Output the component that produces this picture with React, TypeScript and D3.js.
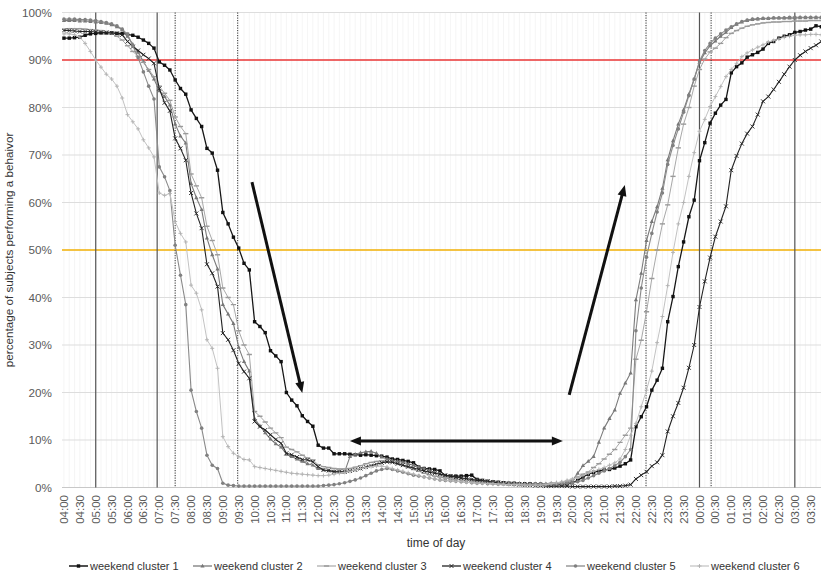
import React from "react";
import * as d3 from "d3";

const W = 821;
const H = 574;

// x tick labels, one every 30 minutes (04:00 start of the day -> 03:30 next day)
const tickLabels = [
  "04:00", "04:30", "05:00", "05:30", "06:00", "06:30", "07:00", "07:30",
  "08:00", "08:30", "09:00", "09:30", "10:00", "10:30", "11:00", "11:30",
  "12:00", "12:30", "13:00", "13:30", "14:00", "14:30", "15:00", "15:30",
  "16:00", "16:30", "17:00", "17:30", "18:00", "18:30", "19:00", "19:30",
  "20:00", "20:30", "21:00", "21:30", "22:00", "22:30", "23:00", "23:30",
  "00:00", "00:30", "01:00", "01:30", "02:00", "02:30", "03:00", "03:30",
];

const yTicks = [0, 10, 20, 30, 40, 50, 60, 70, 80, 90, 100];

const seriesNames = [
  "weekend cluster 1",
  "weekend cluster 2",
  "weekend cluster 3",
  "weekend cluster 4",
  "weekend cluster 5",
  "weekend cluster 6",
];

// percentage of subjects performing the behaviour, one value per 10 minutes from 04:00
const cluster1 = [
  94.6, 94.6, 94.7, 94.8, 95.2, 95.5, 95.6, 95.7, 95.7, 95.7, 95.6, 95.6,
  95.4, 95.2, 94.8, 94.2, 93.5, 92.5, 89.6, 88.9, 87.9, 85.8, 84.0, 82.8,
  79.5, 77.7, 76.0, 71.4, 70.4, 66.8, 57.9, 55.5, 52.7, 50.4, 47.2, 45.8,
  34.9, 33.9, 32.6, 28.8, 27.7, 26.5, 20.0, 18.4, 17.2, 15.1, 13.9, 12.9,
  8.9, 8.3, 8.3, 7.1, 7.1, 7.1, 7.0, 6.9, 6.8, 6.9, 6.8, 6.7,
  6.6, 6.4, 6.0, 5.9, 5.7, 5.5, 5.2, 4.3, 4.0, 3.9, 3.8, 3.5,
  2.5, 2.4, 2.4, 2.4, 2.5, 2.6, 1.7, 1.5, 1.3, 1.2, 1.1, 1.0,
  0.9, 0.9, 0.8, 0.8, 0.8, 0.7, 0.7, 0.6, 0.6, 0.6, 0.7, 0.8,
  1.0, 1.5, 2.2, 2.8, 3.2, 3.5, 3.7, 3.8, 4.1, 4.5, 5.0, 5.8,
  12.8, 14.9, 17.0, 20.5, 22.6, 25.1, 34.9, 40.2, 46.5, 51.7, 57.0, 60.5,
  68.8, 72.6, 76.7, 78.8, 80.5, 81.7, 87.3, 88.6, 89.4, 90.6, 91.1, 91.6,
  92.3, 93.5, 93.9, 94.6, 95.0, 95.3, 95.8, 96.0, 96.3, 96.5, 97.2, 97.0,
];

const cluster2 = [
  98.3, 98.3, 98.3, 98.2, 98.2, 98.1, 98.0, 97.9, 97.7, 97.4, 97.0, 96.4,
  95.0, 93.3, 91.6, 89.7, 87.8, 86.0, 83.5, 82.3, 80.5, 76.5, 74.0, 72.5,
  64.0, 61.0, 58.5, 52.5, 49.0, 46.0, 38.5, 36.5, 34.5, 29.5, 26.5, 24.5,
  14.5, 13.0, 11.5, 10.2, 9.2, 8.5, 7.0, 6.5, 6.0, 5.5, 5.0, 4.7,
  4.0, 3.7, 3.5, 3.4, 3.4, 3.3, 6.5, 7.0, 7.3, 7.5, 7.6, 7.2,
  6.4, 6.0, 5.7, 5.5, 5.3, 5.0, 4.7, 4.3, 4.0, 3.6, 3.2, 2.8,
  2.5, 2.3, 2.1, 2.0, 1.8, 1.7, 1.5, 1.4, 1.3, 1.2, 1.1, 1.0,
  1.0, 0.9, 0.9, 0.8, 0.8, 0.8, 0.8, 0.8, 0.9, 1.0, 1.1, 1.3,
  1.5, 3.0, 4.6, 5.5, 6.5, 9.5, 12.5, 14.5, 16.3, 19.8, 22.0, 24.1,
  39.5, 45.1, 52.0, 56.0, 59.1, 63.0, 69.0, 73.0, 76.5, 79.5, 82.8, 86.0,
  89.5, 91.5, 93.0, 94.0, 95.0, 95.8, 96.8, 97.5, 98.0, 98.3, 98.5, 98.6,
  98.7, 98.7, 98.8, 98.8, 98.8, 98.8, 98.8, 98.9, 98.9, 98.9, 98.9, 98.9,
];

const cluster3 = [
  96.5, 96.6, 96.6, 96.6, 96.5, 96.4, 96.3, 96.2, 96.0, 95.6, 95.0, 94.2,
  93.0, 91.8, 90.8, 89.5, 88.0, 86.5, 84.5, 83.0, 81.5, 78.0, 76.0, 74.5,
  66.0, 63.5, 61.0, 55.0, 52.0, 49.0, 42.0, 40.0, 38.5, 33.0, 30.0, 28.0,
  16.0, 15.0, 13.8, 12.5, 11.5, 10.5, 8.5, 8.0, 7.5, 6.8, 6.2, 5.8,
  4.8, 4.4, 4.2, 4.0, 3.9, 3.9, 4.0, 4.3, 4.6, 5.0, 5.3, 5.5,
  5.6, 5.5, 5.3, 5.0, 4.6, 4.2, 3.8, 3.4, 3.0, 2.7, 2.4, 2.2,
  2.0, 1.8, 1.7, 1.6, 1.5, 1.4, 1.3, 1.2, 1.1, 1.0, 1.0, 0.9,
  0.9, 0.8, 0.8, 0.8, 0.8, 0.8, 0.8, 0.8, 0.9, 0.9, 1.0, 1.3,
  1.7, 2.2, 2.8, 3.3, 4.2, 5.0, 6.0, 7.0, 8.0, 9.5, 11.0, 12.5,
  27.0, 31.0, 37.0, 44.0, 50.0, 55.5, 59.5, 65.5, 71.5, 76.5, 80.0, 84.5,
  88.0, 90.2, 91.7, 92.5, 93.5, 94.7, 95.6, 96.2, 96.7, 97.1, 97.4, 97.6,
  97.8, 97.9, 98.0, 98.0, 98.1, 98.1, 98.2, 98.2, 98.2, 98.3, 98.3, 98.3,
];

const cluster4 = [
  96.2, 96.2, 96.1, 96.0, 96.0, 96.0, 95.9, 95.8, 95.8, 95.7, 95.6, 95.3,
  93.9, 92.8, 92.0, 91.1, 90.3, 89.3, 84.0, 81.0, 79.3, 73.5, 71.4, 68.9,
  62.0, 57.7, 54.6, 47.0, 45.1, 42.3, 32.5, 31.1, 28.9, 26.1, 24.4, 23.0,
  13.9, 12.8, 12.1, 11.1, 10.1, 9.3, 7.2, 6.9, 6.4, 5.9, 5.8, 5.4,
  4.4, 3.7, 3.6, 3.3, 3.3, 3.3, 3.5, 3.7, 4.0, 4.3, 4.6, 4.9,
  5.2, 5.4, 5.3, 5.0, 4.7, 4.4, 4.1, 3.8, 3.5, 3.2, 3.0, 2.8,
  2.6, 2.4, 2.2, 2.0, 1.9, 1.7, 1.5, 1.4, 1.3, 1.1, 1.0, 0.9,
  0.8, 0.7, 0.6, 0.5, 0.5, 0.4, 0.4, 0.3, 0.3, 0.3, 0.3, 0.3,
  0.2, 0.2, 0.2, 0.2, 0.2, 0.2, 0.2, 0.2, 0.3, 0.3, 0.4, 0.6,
  1.8, 2.6, 3.3, 4.5, 5.3, 6.8, 11.8, 15.0, 17.8, 21.0, 25.2, 30.0,
  38.0, 43.4, 48.4, 52.8, 56.0, 59.2, 66.8, 69.8, 72.4, 74.5, 76.0, 78.5,
  81.3, 82.3, 83.8, 85.4, 87.0, 88.6, 90.0, 91.0, 91.8, 92.5, 93.1, 93.9,
];

const cluster5 = [
  98.6, 98.6, 98.6, 98.5, 98.5, 98.4, 98.3, 98.1, 97.9, 97.6, 97.2, 96.5,
  95.4, 93.0, 90.5, 87.5, 84.5, 81.8, 67.5, 65.4, 62.5, 51.0, 44.7, 38.5,
  20.5, 16.0, 12.5, 6.8, 4.7, 4.0, 0.9, 0.5, 0.4, 0.3, 0.3, 0.3,
  0.3, 0.3, 0.3, 0.3, 0.3, 0.3, 0.3, 0.3, 0.3, 0.3, 0.3, 0.3,
  0.3, 0.4, 0.5, 0.6, 0.8, 1.0, 1.3, 1.6, 2.0, 2.5, 3.0, 3.5,
  3.8, 4.0, 3.8, 3.5, 3.2, 2.9, 2.6, 2.4, 2.2, 2.0, 1.8, 1.6,
  1.5, 1.4, 1.3, 1.2, 1.1, 1.0, 0.9, 0.9, 0.8, 0.8, 0.7, 0.7,
  0.7, 0.6, 0.6, 0.6, 0.6, 0.6, 0.6, 0.6, 0.7, 0.7, 0.8, 0.9,
  1.0, 1.2, 1.5, 2.0, 2.5, 3.0, 3.5, 4.0, 4.6, 5.3, 6.5, 8.0,
  33.0, 42.0, 48.5, 53.5, 58.0, 62.0, 68.0, 72.0, 75.5, 79.0, 82.5, 86.0,
  89.8, 92.0, 93.5, 94.6, 95.5, 96.3, 97.0, 97.6, 98.1, 98.4, 98.6, 98.7,
  98.8, 98.8, 98.9, 98.9, 98.9, 99.0, 99.0, 99.0, 99.0, 99.0, 99.0, 99.0,
];

const cluster6 = [
  95.5, 95.5, 95.3, 94.8, 93.5, 91.8, 90.0, 88.5, 87.0, 86.0, 84.5, 82.0,
  78.5, 77.0, 75.5, 73.2, 71.5, 69.6, 62.0, 61.5, 61.9, 56.0, 53.5, 51.7,
  42.6, 40.9, 37.4, 31.1, 29.3, 25.1, 10.7, 8.6, 7.2, 6.5, 5.9, 5.8,
  4.4, 4.2, 4.0, 3.8, 3.6, 3.4, 3.2, 3.0, 2.9, 2.8, 2.7, 2.6,
  2.5, 2.5, 2.6, 2.8, 3.0, 3.2, 3.4, 3.7, 4.0, 4.2, 4.4, 4.5,
  4.5, 4.3, 4.0, 3.7, 3.4, 3.1, 2.8, 2.5, 2.2, 2.0, 1.8, 1.6,
  1.5, 1.4, 1.3, 1.2, 1.1, 1.0, 0.9, 0.9, 0.8, 0.8, 0.7, 0.7,
  0.6, 0.6, 0.6, 0.5, 0.5, 0.5, 0.5, 0.6, 0.8, 1.0, 1.2, 1.5,
  1.8, 2.1, 2.5, 3.0, 3.4, 3.8, 4.2, 4.7, 5.2, 6.0, 8.0, 11.0,
  13.5, 17.0, 20.5, 24.5, 30.5, 36.0, 42.5, 49.5, 55.5, 60.0, 65.5, 70.5,
  75.0, 77.5, 80.2, 82.3, 84.4, 86.5, 88.0, 89.3, 90.7, 91.5, 92.1, 92.7,
  93.2, 93.8, 94.1, 94.4, 94.8, 95.0, 95.2, 95.3, 95.3, 95.4, 95.4, 95.3,
];

// reference levels
const thresholdHigh = 90;
const thresholdMid = 50;

// vertical reference times
const solidMarkerTimes = ["05:00", "06:56", "00:00", "03:00"];
const dottedMarkerTimes = ["07:30", "09:28", "22:19", "00:22"];

// trend arrows in (time, percent)
const arrowStarts: [string, number][] = [["09:55", 64.3], ["19:54", 19.5], ["13:00", 9.8]];
const arrowEnds: [string, number][] = [["11:30", 19.9], ["21:39", 63.7], ["19:42", 9.8]];
const arrowDoubleHeaded = [false, false, true];

const STEP = 10; // minutes between samples

const toMinutes = (t: string) => {
  const [h, m] = t.split(":").map(Number);
  return (h * 60 + m - 240 + 1440) % 1440;
};

const plot = { left: 62, right: 821, top: 12.5, bottom: 487.5 };

const x = d3.scaleLinear().domain([0, 1430]).range([63.95, 821.3]);
const y = d3.scaleLinear().domain([0, 100]).range([plot.bottom, plot.top]);

type MarkerKind = "square" | "triangle" | "dash" | "x" | "circle" | "plus";

const styles: { color: string; width: number; marker: MarkerKind; mcolor: string }[] = [
  { color: "#161616", width: 1.3, marker: "square", mcolor: "#111" },
  { color: "#7b7b7b", width: 1.1, marker: "triangle", mcolor: "#777" },
  { color: "#a8a8a8", width: 1.0, marker: "dash", mcolor: "#9a9a9a" },
  { color: "#222", width: 1.1, marker: "x", mcolor: "#222" },
  { color: "#8a8a8a", width: 1.1, marker: "circle", mcolor: "#808080" },
  { color: "#c2c2c2", width: 1.0, marker: "plus", mcolor: "#b0b0b0" },
];

const allSeries = [cluster1, cluster2, cluster3, cluster4, cluster5, cluster6];

function Marker({ kind, cx, cy, color }: { kind: MarkerKind; cx: number; cy: number; color: string }) {
  switch (kind) {
    case "square":
      return <rect x={cx - 1.7} y={cy - 1.7} width={3.4} height={3.4} fill={color} />;
    case "triangle":
      return <path d={`M${cx},${cy - 2.3}L${cx + 2.1},${cy + 1.4}L${cx - 2.1},${cy + 1.4}Z`} fill={color} />;
    case "dash":
      return <line x1={cx - 2.6} x2={cx + 2.6} y1={cy} y2={cy} stroke={color} strokeWidth={1.4} />;
    case "x":
      return (
        <path
          d={`M${cx - 2},${cy - 2}L${cx + 2},${cy + 2}M${cx - 2},${cy + 2}L${cx + 2},${cy - 2}`}
          stroke={color}
          strokeWidth={0.9}
          fill="none"
        />
      );
    case "circle":
      return <circle cx={cx} cy={cy} r={1.8} fill={color} />;
    case "plus":
      return (
        <path
          d={`M${cx - 2},${cy}L${cx + 2},${cy}M${cx},${cy - 2}L${cx},${cy + 2}`}
          stroke={color}
          strokeWidth={0.9}
          fill="none"
        />
      );
  }
  return null;
}

function arrowHead(tx: number, ty: number, fx: number, fy: number, len = 11, half = 4.5) {
  const dx = tx - fx;
  const dy = ty - fy;
  const d = Math.hypot(dx, dy);
  const ux = dx / d;
  const uy = dy / d;
  const bx = tx - ux * len;
  const by = ty - uy * len;
  return `M${tx},${ty}L${bx - uy * half},${by + ux * half}L${bx + uy * half},${by - ux * half}Z`;
}

export default function App() {
  const line = d3
    .line<number>()
    .x((_, i) => x(i * STEP))
    .y((v) => y(v));

  const font = "'Liberation Sans', Arial, Helvetica, sans-serif";
  const gridMinutes = d3.range(0, 1440, STEP);

  return (
    <svg
      width={W}
      height={H}
      viewBox={`0 0 ${W} ${H}`}
      style={{ position: "absolute", left: 0, top: 0, background: "#fff" }}
      fontFamily={font}
    >
      <defs>
        <clipPath id="plot-clip">
          <rect x={plot.left} y={0} width={plot.right - plot.left} height={plot.bottom + 2} />
        </clipPath>
      </defs>

      {/* faint vertical grid, one line per sample */}
      <g clipPath="url(#plot-clip)">
        {gridMinutes.map((m) => (
          <line
            key={`vg${m}`}
            x1={x(m)}
            x2={x(m)}
            y1={plot.top}
            y2={plot.bottom}
            stroke="#f1f1f1"
            strokeWidth={0.7}
          />
        ))}
      </g>

      {/* horizontal grid */}
      {yTicks.map((t) => (
        <line
          key={`hg${t}`}
          x1={plot.left}
          x2={plot.right}
          y1={y(t)}
          y2={y(t)}
          stroke={t === 0 ? "#c8c8c8" : "#dddddd"}
          strokeWidth={1}
        />
      ))}

      {/* y tick labels */}
      {yTicks.map((t) => (
        <text
          key={`yl${t}`}
          x={52}
          y={y(t)}
          dy="0.35em"
          textAnchor="end"
          fontSize={11.7}
          fill="#5a5a5a"
        >
          {`${t}%`}
        </text>
      ))}

      {/* x tick labels */}
      {tickLabels.map((lab) => {
        const px = x(toMinutes(lab));
        return (
          <text
            key={`xl${lab}`}
            transform={`translate(${px},${plot.bottom + 7.5}) rotate(-90)`}
            textAnchor="end"
            dy="0.35em"
            fontSize={11.5}
            fill="#5a5a5a"
          >
            {lab}
          </text>
        );
      })}

      {/* reference levels */}
      <line x1={plot.left} x2={plot.right} y1={y(thresholdHigh)} y2={y(thresholdHigh)} stroke="#ee3a3a" strokeWidth={1.4} />
      <line x1={plot.left} x2={plot.right} y1={y(thresholdMid)} y2={y(thresholdMid)} stroke="#f6b40a" strokeWidth={1.3} />

      {/* vertical reference times */}
      {solidMarkerTimes.map((t) => (
        <line
          key={`sv${t}`}
          x1={x(toMinutes(t))}
          x2={x(toMinutes(t))}
          y1={plot.top}
          y2={plot.bottom}
          stroke="#555"
          strokeWidth={1.2}
        />
      ))}
      {dottedMarkerTimes.map((t) => (
        <line
          key={`dv${t}`}
          x1={x(toMinutes(t))}
          x2={x(toMinutes(t))}
          y1={plot.top}
          y2={plot.bottom}
          stroke="#333"
          strokeWidth={1}
          strokeDasharray="1.2,1.3"
        />
      ))}

      {/* series */}
      <g clipPath="url(#plot-clip)">
        {allSeries.map((vals, si) => {
          const st = styles[si];
          return (
            <g key={`s${si}`}>
              <path d={line(vals) || ""} fill="none" stroke={st.color} strokeWidth={st.width} strokeLinejoin="round" />
              {vals.map((v, i) => (
                <Marker key={i} kind={st.marker} cx={x(i * STEP)} cy={y(v)} color={st.mcolor} />
              ))}
            </g>
          );
        })}
      </g>

      {/* trend arrows */}
      {arrowStarts.map((s, k) => {
        const e = arrowEnds[k];
        const x1 = x(toMinutes(s[0]));
        const y1 = y(s[1]);
        const x2 = x(toMinutes(e[0]));
        const y2 = y(e[1]);
        const dx = x2 - x1;
        const dy = y2 - y1;
        const d = Math.hypot(dx, dy);
        const ux = dx / d;
        const uy = dy / d;
        const sx = arrowDoubleHeaded[k] ? x1 + ux * 8 : x1;
        const sy = arrowDoubleHeaded[k] ? y1 + uy * 8 : y1;
        return (
          <g key={`ar${k}`}>
            <line x1={sx} y1={sy} x2={x2 - ux * 8} y2={y2 - uy * 8} stroke="#111" strokeWidth={3} />
            <path d={arrowHead(x2, y2, x1, y1)} fill="#111" />
            {arrowDoubleHeaded[k] && <path d={arrowHead(x1, y1, x2, y2)} fill="#111" />}
          </g>
        );
      })}

      {/* axis titles */}
      <text x={436} y={547} textAnchor="middle" fontSize={12} fill="#333">
        time of day
      </text>
      <text transform="translate(13,250) rotate(-90)" textAnchor="middle" fontSize={11.7} fill="#333">
        percentage of subjects performing a behaivor
      </text>

      {/* legend */}
      {seriesNames.map((name, i) => {
        const lx = [69, 193, 317, 442, 566, 690][i];
        const ly = 566;
        const st = styles[i];
        return (
          <g key={`lg${i}`}>
            <line x1={lx} x2={lx + 19} y1={ly} y2={ly} stroke={st.color} strokeWidth={st.width + 0.2} />
            <Marker kind={st.marker} cx={lx + 9.5} cy={ly} color={st.mcolor} />
            <text x={lx + 21} y={ly} dy="0.35em" fontSize={11} fill="#333">
              {name}
            </text>
          </g>
        );
      })}
    </svg>
  );
}
